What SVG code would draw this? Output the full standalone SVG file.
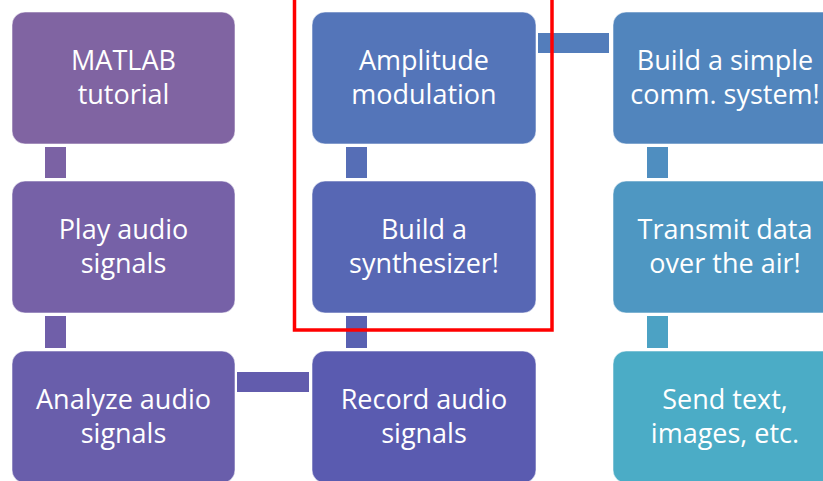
<svg xmlns="http://www.w3.org/2000/svg" width="823" height="481" viewBox="0 0 823 481">
<style>
.box{stroke:#ffffff;stroke-opacity:0.55;stroke-width:1}
.t{font-family:"Open Sans","Noto Sans","Liberation Sans",sans-serif;font-size:27px;fill:#ffffff;text-anchor:middle}
</style>
<rect width="823" height="481" fill="#ffffff"/>
<g id="connectors">
<rect x="45" y="147" width="21" height="31" fill="#7B62A4"/>
<rect x="45" y="316" width="21" height="32" fill="#705FA9"/>
<rect x="237" y="372" width="72" height="20" fill="#625CAD"/>
<rect x="346" y="316" width="21" height="32" fill="#5961B2"/>
<rect x="346" y="147" width="21" height="31" fill="#566EB6"/>
<rect x="538" y="33" width="71" height="20" fill="#537DBB"/>
<rect x="647" y="147" width="21" height="31" fill="#4F8EC0"/>
<rect x="647" y="316" width="21" height="32" fill="#4CA2C4"/>
</g>
<g id="n1"><rect class="box" x="12" y="12" width="223" height="132" rx="13" fill="#8064A2"/><text class="t" x="123.5" y="70">MATLAB</text><text class="t" x="123.5" y="104">tutorial</text></g>
<g id="n2"><rect class="box" x="12" y="181" width="223" height="132" rx="13" fill="#7661A7"/><text class="t" x="123.5" y="239">Play audio</text><text class="t" x="123.5" y="273">signals</text></g>
<g id="n3"><rect class="box" x="12" y="351" width="223" height="132" rx="13" fill="#695EAB"/><text class="t" x="123.5" y="409">Analyze audio</text><text class="t" x="123.5" y="443">signals</text></g>
<g id="n4"><rect class="box" x="312" y="351" width="224" height="132" rx="13" fill="#5A5BB0"/><text class="t" x="424" y="409">Record audio</text><text class="t" x="424" y="443">signals</text></g>
<g id="n5"><rect class="box" x="312" y="181" width="224" height="132" rx="13" fill="#5767B4"/><text class="t" x="424" y="239">Build a</text><text class="t" x="424" y="273">synthesizer!</text></g>
<g id="n6"><rect class="box" x="312" y="12" width="224" height="132" rx="13" fill="#5475B9"/><text class="t" x="424" y="70">Amplitude</text><text class="t" x="424" y="104">modulation</text></g>
<g id="n7"><rect class="box" x="613" y="12" width="224" height="132" rx="13" fill="#5185BD"/><text class="t" x="725" y="70">Build a simple</text><text class="t" x="725" y="104">comm. system!</text></g>
<g id="n8"><rect class="box" x="613" y="181" width="224" height="132" rx="13" fill="#4E97C2"/><text class="t" x="725" y="239">Transmit data</text><text class="t" x="725" y="273">over the air!</text></g>
<g id="n9"><rect class="box" x="613" y="351" width="224" height="132" rx="13" fill="#4BACC6"/><text class="t" x="725" y="409">Send text,</text><text class="t" x="725" y="443">images, etc.</text></g>
<rect id="highlight" x="294.5" y="-10" width="257.5" height="340" fill="none" stroke="#FF0000" stroke-width="3.5"/>
</svg>
